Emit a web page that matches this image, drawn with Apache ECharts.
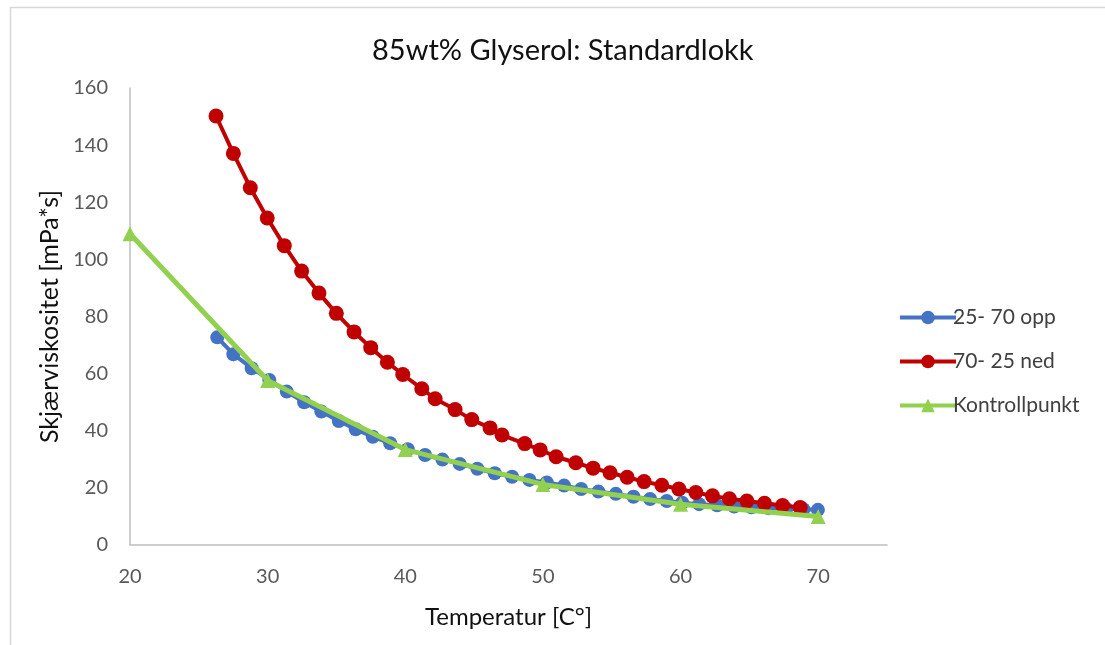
<!DOCTYPE html>
<html>
<head>
<meta charset="utf-8">
<script src="https://cdn.jsdelivr.net/npm/echarts@6/dist/echarts.min.js"></script>
<style>
  html, body { margin: 0; padding: 0; background: #fff; }
  #chart { width: 1105px; height: 645px; }
</style>
</head>
<body>
<div id="chart"></div>
<script>
// Temperature sweep up (25 -> 70 °C)
const oppTemp = [26.34, 27.51, 28.84, 30.12, 31.39, 32.65, 33.90, 35.17, 36.40, 37.64,
  38.90, 40.18, 41.44, 42.70, 43.96, 45.24, 46.50, 47.76, 49.02, 50.28,
  51.54, 52.78, 54.03, 55.30, 56.58, 57.79, 59.00, 60.12, 61.35, 62.66,
  63.90, 65.15, 66.38, 67.69, 68.92, 69.98];
const oppVisc = [72.7, 66.8, 61.9, 57.8, 53.7, 50.0, 46.7, 43.4, 40.5, 37.9,
  35.6, 33.5, 31.5, 29.9, 28.4, 26.7, 25.1, 23.9, 22.8, 21.9,
  20.8, 19.6, 18.7, 17.9, 16.9, 16.1, 15.4, 14.8, 14.3, 13.9,
  13.5, 13.2, 12.9, 12.7, 12.5, 12.3];

// Temperature sweep down (70 -> 25 °C)
const nedTemp = [26.25, 27.51, 28.74, 29.97, 31.21, 32.47, 33.73, 34.99, 36.28, 37.49,
  38.70, 39.82, 41.20, 42.17, 43.62, 44.83, 46.16, 47.03, 48.68, 49.80,
  50.96, 52.39, 53.65, 54.88, 56.12, 57.35, 58.64, 59.88, 61.11, 62.32,
  63.55, 64.82, 66.10, 67.41, 68.69];
const nedVisc = [150.2, 137.1, 125.1, 114.5, 104.8, 95.9, 88.2, 81.1, 74.6, 69.1,
  64.0, 59.7, 54.7, 51.2, 47.4, 43.9, 41.0, 38.5, 35.5, 33.3,
  30.9, 28.8, 26.9, 25.3, 23.7, 22.2, 20.9, 19.6, 18.4, 17.2,
  16.2, 15.4, 14.6, 13.8, 13.1];

// Reference control points
const kontrollTemp = [20, 30, 40, 50, 60, 70];
const kontrollVisc = [109, 57.6, 33.4, 21.2, 14.3, 10];

const seriesNames = ['25- 70 opp', '70- 25 ned', 'Kontrollpunkt'];

const pairs = (xs, ys) => xs.map((x, i) => [x, ys[i]]);

const FONT = 'Lato, "Open Sans", sans-serif';

const chart = echarts.init(document.getElementById('chart'), null, { renderer: 'canvas' });

chart.setOption({
  backgroundColor: '#ffffff',
  animation: false,
  graphic: [{
    type: 'rect',
    silent: true,
    shape: { x: 10.5, y: 7.5, width: 1200, height: 800 },
    style: { fill: 'none', stroke: '#d9d9d9', lineWidth: 1.5 }
  }],
  title: {
    text: '85wt% Glyserol: Standardlokk',
    left: 367,
    top: 31,
    textStyle: { fontFamily: FONT, fontSize: 29, fontWeight: 'normal', color: '#111' }
  },
  grid: { left: 130, right: 218, top: 88, bottom: 100, containLabel: false },
  legend: {
    orient: 'vertical',
    left: 893,
    top: 302,
    itemGap: 23,
    itemWidth: 56,
    itemHeight: 17,
    data: seriesNames,
    lineStyle: { width: 4 },
    textStyle: { fontFamily: FONT, fontSize: 21, lineHeight: 21, color: '#404040', padding: [0, 0, 0, -8] }
  },
  xAxis: {
    type: 'value',
    min: 20,
    max: 75,
    interval: 10,
    name: 'Temperatur [C°]',
    nameLocation: 'middle',
    nameGap: 60,
    nameTextStyle: { fontFamily: FONT, fontSize: 24, color: '#111' },
    axisLine: { show: true, lineStyle: { color: '#bfbfbf', width: 1.5 } },
    axisTick: { show: false },
    splitLine: { show: false },
    axisLabel: { showMaxLabel: false, margin: 22, fontFamily: FONT, fontSize: 20, color: '#595959' }
  },
  yAxis: {
    type: 'value',
    min: 0,
    max: 160,
    interval: 20,
    name: 'Skjærviskositet [mPa*s]',
    nameLocation: 'middle',
    nameGap: 67,
    nameTextStyle: { fontFamily: FONT, fontSize: 25, color: '#111' },
    axisLine: { show: true, lineStyle: { color: '#bfbfbf', width: 1.5 } },
    axisTick: { show: false },
    splitLine: { show: false },
    axisLabel: { margin: 22, fontFamily: FONT, fontSize: 20, color: '#595959' }
  },
  series: [
    {
      name: seriesNames[0],
      type: 'line',
      data: pairs(oppTemp, oppVisc),
      symbol: 'circle',
      symbolSize: 14,
      showAllSymbol: true,
      itemStyle: { color: '#4472C4' },
      lineStyle: { color: '#4472C4', width: 4 },
      z: 2
    },
    {
      name: seriesNames[1],
      type: 'line',
      data: pairs(nedTemp, nedVisc),
      symbol: 'circle',
      symbolSize: 15,
      showAllSymbol: true,
      itemStyle: { color: '#C00000' },
      lineStyle: { color: '#C00000', width: 4 },
      z: 3
    },
    {
      name: seriesNames[2],
      type: 'line',
      data: pairs(kontrollTemp, kontrollVisc),
      symbol: 'triangle',
      symbolSize: 15,
      showAllSymbol: true,
      itemStyle: { color: '#92D050' },
      lineStyle: { color: '#92D050', width: 5 },
      z: 4
    }
  ]
});
</script>
</body>
</html>
